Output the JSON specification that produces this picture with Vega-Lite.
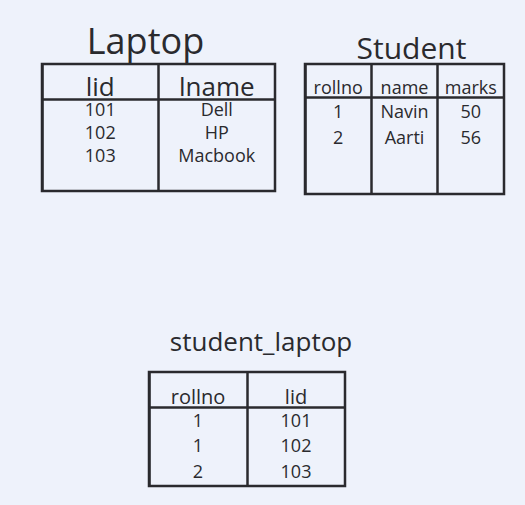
{
  "$schema": "https://vega.github.io/schema/vega-lite/v6.json",
  "description": "Whiteboard sketch of three tables: Laptop, Student and student_laptop",
  "background": "#eef2fb",
  "padding": {"left": 40, "top": 23, "right": 23, "bottom": 18},
  "datasets": {
    "laptop": [
      {"row": 1, "lid": "101", "lname": "Dell"},
      {"row": 2, "lid": "102", "lname": "HP"},
      {"row": 3, "lid": "103", "lname": "Macbook"}
    ],
    "student": [
      {"row": 1, "rollno": "1", "name": "Navin", "marks": "50"},
      {"row": 2, "rollno": "2", "name": "Aarti", "marks": "56"}
    ],
    "student_laptop": [
      {"row": 1, "rollno": "1", "lid": "101"},
      {"row": 2, "rollno": "1", "lid": "102"},
      {"row": 3, "rollno": "2", "lid": "103"}
    ]
  },
  "vconcat": [
    {
      "hconcat": [
        {
          "title": {"text": "Laptop", "fontSize": 36, "dx": -13, "offset": 2},
          "width": 233,
          "height": 127,
          "data": {"name": "laptop"},
          "transform": [{"fold": ["lid", "lname"], "as": ["column", "value"]}],
          "mark": {"type": "text", "fontSize": 18},
          "encoding": {
            "x": {
              "field": "column",
              "type": "nominal",
              "sort": ["lid", "lname"],
              "scale": {"type": "band", "paddingInner": 0, "paddingOuter": 0},
              "axis": {"offset": -35, "labelFontSize": 26}
            },
            "y": {
              "field": "row",
              "type": "quantitative",
              "scale": {"domain": [-1.05, 4.47], "reverse": true},
              "axis": null
            },
            "text": {"field": "value"}
          }
        },
        {
          "title": {"text": "Student", "fontSize": 30, "dx": 7, "offset": -1},
          "width": 199,
          "height": 130,
          "data": {"name": "student"},
          "transform": [{"fold": ["rollno", "name", "marks"], "as": ["column", "value"]}],
          "mark": {"type": "text", "fontSize": 18},
          "encoding": {
            "x": {
              "field": "column",
              "type": "nominal",
              "sort": ["rollno", "name", "marks"],
              "scale": {"type": "band", "paddingInner": 0, "paddingOuter": 0},
              "axis": {"offset": -33, "labelFontSize": 18}
            },
            "y": {
              "field": "row",
              "type": "quantitative",
              "scale": {"domain": [-0.9, 4.1], "reverse": true},
              "axis": null
            },
            "text": {"field": "value"}
          }
        }
      ],
      "spacing": 30,
      "bounds": "flush"
    },
    {
      "hconcat": [
        {
          "width": 107,
          "height": 114,
          "data": {"values": [{}]},
          "mark": {"type": "text"},
          "encoding": {},
          "view": {"stroke": null}
        },
        {
          "title": {"text": "student_laptop", "fontSize": 26, "dx": 14, "offset": 16},
          "width": 196,
          "height": 114,
          "data": {"name": "student_laptop"},
          "transform": [{"fold": ["rollno", "lid"], "as": ["column", "value"]}],
          "mark": {"type": "text", "fontSize": 18},
          "encoding": {
            "x": {
              "field": "column",
              "type": "nominal",
              "sort": ["rollno", "lid"],
              "scale": {"type": "band", "paddingInner": 0, "paddingOuter": 0},
              "axis": {"offset": -35, "labelFontSize": 20}
            },
            "y": {
              "field": "row",
              "type": "quantitative",
              "scale": {"domain": [-0.95, 3.52], "reverse": true},
              "axis": null
            },
            "text": {"field": "value"}
          }
        }
      ],
      "spacing": 0,
      "bounds": "flush"
    }
  ],
  "spacing": 132,
  "bounds": "full",
  "config": {
    "font": "Open Sans",
    "title": {
      "font": "Open Sans",
      "fontWeight": "normal",
      "color": "#2a2a2e",
      "anchor": "middle",
      "baseline": "alphabetic"
    },
    "text": {"color": "#2a2a2e", "font": "Open Sans"},
    "axisX": {
      "orient": "top",
      "title": null,
      "ticks": false,
      "bandPosition": 0,
      "grid": true,
      "gridColor": "#2a2a2e",
      "gridWidth": 2.5,
      "gridOpacity": 1,
      "domainColor": "#2a2a2e",
      "domainWidth": 2.5,
      "labelFont": "Open Sans",
      "labelColor": "#2a2a2e",
      "labelAngle": 0,
      "labelAlign": "center",
      "labelBaseline": "alphabetic",
      "labelPadding": 4
    },
    "view": {"stroke": "#2a2a2e", "strokeWidth": 2.5}
  }
}
